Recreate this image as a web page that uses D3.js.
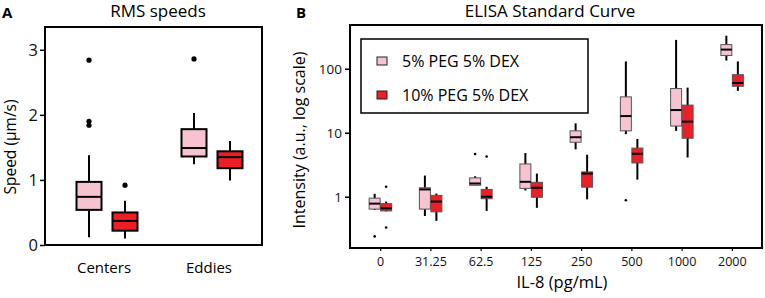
<!DOCTYPE html>
<html>
<head>
<meta charset="utf-8">
<script src="https://cdn.jsdelivr.net/npm/d3@7"></script>
<style>
  body { margin: 0; background: #fff; }
  svg { display: block; font-family: "Open Sans", sans-serif; }
</style>
</head>
<body>
<svg id="chart" width="765" height="298"></svg>
<script>
// panel A data: [lowWhisker, q1, median, q3, highWhisker]
const speedCats = ["Centers", "Eddies"];
const speedPeg5 = [[0.12, 0.54, 0.74, 0.97, 1.38], [1.24, 1.36, 1.49, 1.78, 2.03]];
const speedPeg10 = [[0.10, 0.22, 0.37, 0.50, 0.68], [0.99, 1.18, 1.35, 1.44, 1.60]];
const speedOut5 = [[2.84, 1.90, 1.84], [2.86]];
const speedOut10 = [[0.92], []];
const speedTicks = [0, 1, 2, 3];

// panel B data
const doseLabels = ["0", "31.25", "62.5", "125", "250", "500", "1000", "2000"];
const elisaPeg5 = [
  [0.62, 0.64, 0.78, 0.95, 1.11],
  [0.50, 0.64, 1.30, 1.38, 2.14],
  [1.51, 1.51, 1.61, 1.97, 2.09],
  [1.25, 1.35, 1.71, 3.25, 4.81],
  [5.5, 7.1, 8.5, 10.7, 14.0],
  [9.5, 10.7, 18.2, 36.3, 130],
  [10.7, 12.7, 22.6, 49, 282],
  [134, 161, 199, 238, 328]
];
const elisaPeg10 = [
  [0.59, 0.60, 0.66, 0.78, 0.84],
  [0.42, 0.58, 0.84, 1.05, 1.12],
  [0.60, 0.93, 1.00, 1.30, 1.43],
  [0.67, 0.98, 1.38, 1.68, 2.30],
  [0.91, 1.41, 2.30, 2.44, 4.53],
  [1.85, 3.37, 4.69, 5.75, 8.0],
  [4.1, 8.2, 14.9, 27, 50.7],
  [45, 53.2, 59.8, 80.7, 130]
];
const elisaOut5 = [[0.24], [], [4.64], [], [], [0.88], [], []];
const elisaOut10 = [[1.43, 0.33], [], [4.26], [], [], [], [], []];
const elisaTicks = [1, 10, 100];
const legendNames = ["5% PEG 5% DEX", "10% PEG 5% DEX"];

const pink = "#f8c3d1";
const red = "#ec1f27";

const svg = d3.select("#chart");

function drawBoxes(g, stats, outs, x, y, off, w, fill, opt) {
  stats.forEach(function (s, i) {
    const cx = x(i) + off;
    const b = g.append("g");
    b.append("line")
      .attr("x1", cx).attr("x2", cx)
      .attr("y1", y(s[0])).attr("y2", y(s[4]))
      .attr("stroke", "#000").attr("stroke-width", opt.whisker);
    b.append("rect")
      .attr("x", cx - w / 2).attr("width", w)
      .attr("y", y(s[3])).attr("height", y(s[1]) - y(s[3]))
      .attr("fill", fill).attr("stroke", opt.boxStroke).attr("stroke-width", opt.boxWidth);
    b.append("line")
      .attr("x1", cx - w / 2).attr("x2", cx + w / 2)
      .attr("y1", y(s[2])).attr("y2", y(s[2]))
      .attr("stroke", "#000").attr("stroke-width", 2);
    outs[i].forEach(function (v) {
      b.append("circle").attr("cx", cx).attr("cy", y(v)).attr("r", opt.dot).attr("fill", "#000");
    });
  });
}

// ---------- Panel A ----------
const A = { left: 45, right: 262, top: 27, bottom: 245 };
const yA = d3.scaleLinear().domain([0, 3.35]).range([A.bottom, A.top]);
const xA = d3.scaleLinear().domain([0, 1]).range([107, 212]);

const gA = svg.append("g");
gA.append("rect")
  .attr("x", A.left).attr("y", A.top)
  .attr("width", A.right - A.left).attr("height", A.bottom - A.top)
  .attr("fill", "none").attr("stroke", "#000").attr("stroke-width", 2);

gA.append("g")
  .attr("transform", `translate(${A.left},0)`)
  .call(d3.axisLeft(yA).tickValues(speedTicks).tickSize(5).tickPadding(2).tickFormat(d3.format("d")))
  .call(g => g.select(".domain").remove())
  .call(g => g.selectAll("line").attr("stroke-width", 1.5))
  .call(g => g.selectAll("text").attr("font-size", 16.5).attr("font-family", "Open Sans").attr("fill", "#111"));

gA.selectAll(".catA")
  .data(speedCats)
  .enter()
  .append("text")
  .attr("x", (d, i) => xA(i) - 3)
  .attr("y", 273)
  .attr("text-anchor", "middle")
  .attr("font-size", 15)
  .text(d => d);

const boxOptA = { whisker: 2, boxStroke: "#000", boxWidth: 2, dot: 2.6 };
drawBoxes(gA, speedPeg5, speedOut5, xA, yA, -18, 25, pink, boxOptA);
drawBoxes(gA, speedPeg10, speedOut10, xA, yA, 18, 25, red, boxOptA);

gA.append("text").attr("x", 158).attr("y", 17).attr("text-anchor", "middle")
  .attr("font-size", 17).text("RMS speeds");
gA.append("text").attr("x", 2).attr("y", 18).attr("font-size", 15).attr("font-weight", "bold").text("A");
gA.append("text")
  .attr("transform", "translate(16,147) rotate(-90)")
  .attr("text-anchor", "middle").attr("font-size", 15.5)
  .text("Speed (μm/s)");

// ---------- Panel B ----------
const B = { left: 350, right: 762, top: 25, bottom: 248 };
const yB = d3.scaleLog().domain([0.158, 482]).range([B.bottom, B.top]);
const xB = d3.scalePoint().domain(doseLabels).range([B.left, B.right]).padding(0.6);
const xBi = i => xB(doseLabels[i]);

const gB = svg.append("g");
gB.append("rect")
  .attr("x", B.left).attr("y", B.top)
  .attr("width", B.right - B.left).attr("height", B.bottom - B.top)
  .attr("fill", "none").attr("stroke", "#000").attr("stroke-width", 2);

gB.append("g")
  .attr("transform", `translate(${B.left},0)`)
  .call(d3.axisLeft(yB).tickValues(elisaTicks).tickSize(5).tickPadding(3).tickFormat(d3.format("d")))
  .call(g => g.select(".domain").remove())
  .call(g => g.selectAll("line").attr("stroke-width", 1.5))
  .call(g => g.selectAll("text").attr("font-size", 13.5).attr("font-family", "Open Sans").attr("fill", "#111"));

gB.append("g")
  .attr("transform", `translate(0,${B.bottom})`)
  .call(d3.axisBottom(xB).tickSize(3).tickPadding(6))
  .call(g => g.select(".domain").remove())
  .call(g => g.selectAll("line").attr("stroke-width", 1.2))
  .call(g => g.selectAll("text").attr("font-size", 12.5).attr("font-family", "Open Sans").attr("fill", "#111"));

const boxOptB = { whisker: 2, boxStroke: "#555", boxWidth: 1, dot: 1.3 };
drawBoxes(gB, elisaPeg5, elisaOut5, xBi, yB, -5.5, 11, pink, boxOptB);
drawBoxes(gB, elisaPeg10, elisaOut10, xBi, yB, 6, 11, red, boxOptB);

// legend
const leg = gB.append("g");
leg.append("rect")
  .attr("x", 361).attr("y", 39).attr("width", 227).attr("height", 74)
  .attr("fill", "#fff").attr("stroke", "#000").attr("stroke-width", 1.5);
const legItems = leg.selectAll(".li")
  .data(legendNames)
  .enter()
  .append("g")
  .attr("transform", (d, i) => `translate(377,${57 + i * 34})`);
legItems.append("rect")
  .attr("width", 10).attr("height", 8)
  .attr("fill", (d, i) => i === 0 ? pink : red)
  .attr("stroke", "#222").attr("stroke-width", 1);
legItems.append("text")
  .attr("x", 25).attr("y", 10)
  .attr("font-size", 16)
  .text(d => d);

gB.append("text").attr("x", 550).attr("y", 17).attr("text-anchor", "middle")
  .attr("font-size", 17).text("ELISA Standard Curve");
gB.append("text").attr("x", 296).attr("y", 18).attr("font-size", 15).attr("font-weight", "bold").text("B");
gB.append("text")
  .attr("transform", "translate(305,140) rotate(-90)")
  .attr("text-anchor", "middle").attr("font-size", 16)
  .text("Intensity (a.u., log scale)");
gB.append("text").attr("x", 562).attr("y", 288).attr("text-anchor", "middle")
  .attr("font-size", 16.5).text("IL-8 (pg/mL)");
</script>
</body>
</html>
